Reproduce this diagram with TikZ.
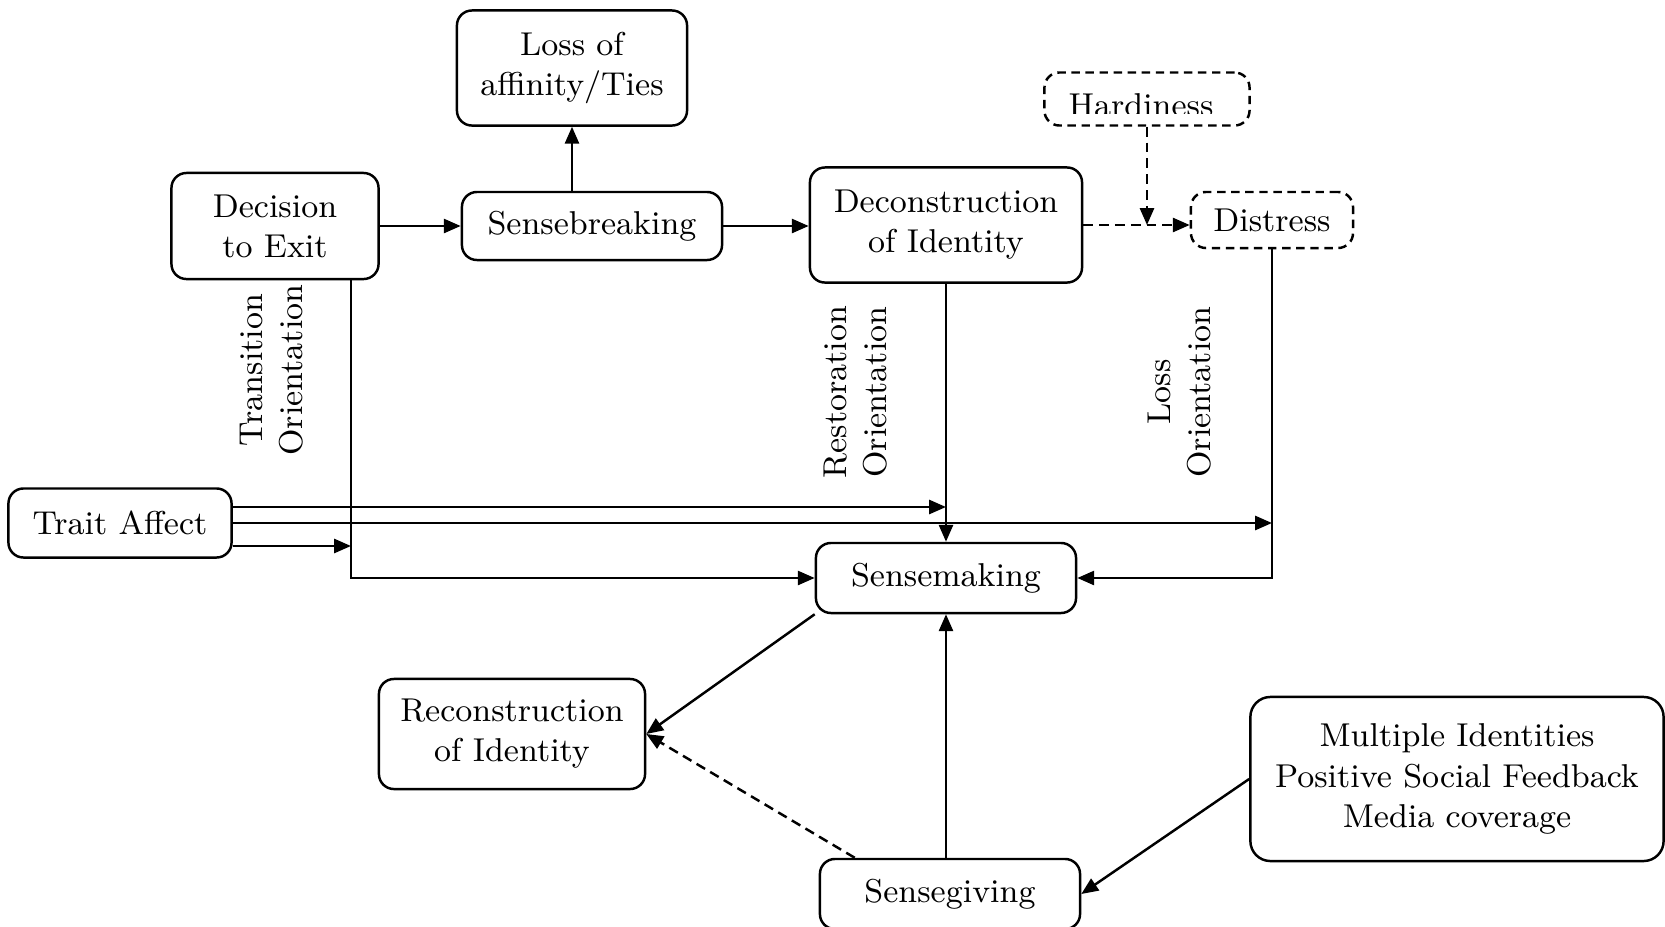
\documentclass[tikz,border=0pt]{standalone}
\usetikzlibrary{arrows.meta}
\begin{document}
\begin{tikzpicture}[x=0.01cm, y=-0.01cm,
    txt/.style={font=\fontsize{9.4}{11.4}\selectfont},
    box/.style={txt, draw, line width=0.7pt, rounded corners=0.15cm, align=center, inner sep=0pt},
    dbox/.style={box, dash pattern=on 2.4pt off 1.6pt},
    lab/.style={txt, rotate=90, align=center},
    arr/.style={line width=0.7pt, -{Triangle[length=4.8pt, width=4pt]}},
    darr/.style={arr, dash pattern=on 2.8pt off 1.7pt}]
    \useasboundingbox (0,0) rectangle (1665,927);

    %boxes
    \node[box, minimum width=2.30cm, minimum height=1.15cm] (loss) at (572,68) {Loss of\\affinity/Ties};
    \node[box, minimum width=2.07cm, minimum height=1.06cm] (decision) at (275,226) {Decision\\to Exit};
    \node[box, minimum width=2.60cm, minimum height=0.68cm] (sbreak) at (592,226) {Sensebreaking};
    \node[box, minimum width=2.72cm, minimum height=1.15cm] (decon) at (946,225) {Deconstruction\\of Identity};
    \node[dbox, minimum width=2.05cm, minimum height=0.53cm] (hardy) at (1147,99) {};
    \node[dbox, minimum width=1.62cm, minimum height=0.56cm] (distress) at (1272,220) {Distress};
    \node[box, minimum width=2.23cm, minimum height=0.69cm] (trait) at (120,523) {Trait Affect};
    \node[box, minimum width=2.60cm, minimum height=0.70cm] (smaking) at (946,578) {Sensemaking};
    \node[box, minimum width=2.66cm, minimum height=1.10cm] (recon) at (512,734) {Reconstruction\\of Identity};
    \node[box, minimum width=2.60cm, minimum height=0.70cm] (sgiving) at (950,894) {Sensegiving};
    \node[box, rounded corners=0.2cm, minimum width=4.13cm, minimum height=1.64cm] (multi) at (1457,779) {Multiple Identities\\Positive Social Feedback\\Media coverage};

    %clipped text of the dashed box
    \coordinate (hcut) at (0,113);
    \begin{scope}
        \clip (hardy.north west) rectangle (hardy.east |- hcut);
        \node[txt, anchor=base] (hardytxt) at (1141,116) {Hardiness};
    \end{scope}

    %labels
    \node[lab] (ltrans) at (272,370) {Transition\\Orientation};
    \node[lab] (lrest) at (856,392) {Restoration\\Orientation};
    \node[lab] (lloss) at (1180,392) {Loss\\Orientation};

    %edges
        %top row
    \draw[arr] (loss.south |- sbreak.north) -- (loss.south);
    \draw[arr] (decision.east) -- (decision.east -| sbreak.west);
    \draw[arr] (sbreak.east) -- (sbreak.east -| decon.west);
    \draw[darr] (decon.east) -- (decon.east -| distress.west);
    \draw[darr] (hardy.south) -- (hardy.south |- decon.east);

        %into sensemaking
    \coordinate (tx) at (351,0);
    \coordinate (ya) at (0,507);
    \coordinate (yb) at (0,546);
    \draw[arr] (decision.south -| tx) -- (tx |- smaking.west) -- (smaking.west);
    \draw[arr] (decon.south) -- (smaking.north);
    \draw[arr] (distress.south) -- (distress.south |- smaking.east) -- (smaking.east);

        %trait affect
    \draw[arr] (trait.east |- ya) -- (smaking.north |- ya);
    \draw[arr] (trait.east) -- (distress.south |- trait.east);
    \draw[arr] (trait.east |- yb) -- (tx |- yb);

        %bottom
    \draw[arr] (smaking.south west) -- (recon.east);
    \draw[darr] ([xshift=0.36cm]sgiving.north west) -- (recon.east);
    \draw[arr] (smaking.south |- sgiving.north) -- (smaking.south);
    \draw[arr] (multi.west) -- (sgiving.east);
\end{tikzpicture}
\end{document}
